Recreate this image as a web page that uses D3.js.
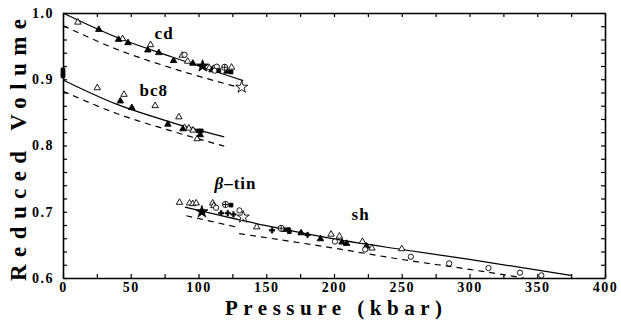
<!DOCTYPE html>
<html>
<head>
<meta charset="utf-8">
<style>
  body { margin: 0; background: #fff; }
  svg { display: block; font-family: "Liberation Serif", serif; }
  .axis path, .axis line { stroke: #000; fill: none; }
  .axis path { stroke-width: 1.6; }
  .axis line { stroke-width: 1.2; }
  .axis text { font-size: 14px; font-weight: bold; fill: #000; font-family: "Liberation Serif", serif; letter-spacing: 1.5px; }
  .curve { fill: none; stroke: #000; stroke-width: 1.2; }
  .dash { stroke-dasharray: 6, 5; }
  .lbl { font-size: 17px; font-weight: bold; letter-spacing: 1px; }
</style>
</head>
<body>
<svg width="621" height="322"></svg>
<script src="https://d3js.org/d3.v7.min.js"></script>
<script>
// fitted curves (pressure kbar, reduced volume)
var cdSolid = [[0, 1.0], [40, 0.963], [80, 0.934], [133, 0.898]];
var cdDash = [[0, 0.981], [40, 0.945], [80, 0.917], [133, 0.886]];
var bc8Solid = [[0, 0.899], [40, 0.862], [80, 0.835], [119, 0.813]];
var bc8Dash = [[0, 0.882], [40, 0.848], [80, 0.822], [119, 0.799]];
var tinSolid = [[90, 0.707], [150, 0.679], [200, 0.659], [250, 0.643], [300, 0.628], [375, 0.604]];
var tinDash = [[91, 0.694], [130, 0.676]];
var shDash = [[130, 0.667], [200, 0.645], [250, 0.628], [300, 0.613], [340, 0.600]];

// measured points
var openTri = [[11, 0.986], [44, 0.961], [64.6, 0.952], [88, 0.936], [92, 0.927], [108, 0.917], [111, 0.916], [124.4, 0.918],
  [25.3, 0.887], [45, 0.877], [68, 0.86], [85.5, 0.843], [89.7, 0.827], [92.9, 0.826], [96, 0.823], [99, 0.81],
  [86, 0.714], [93.4, 0.713], [95.8, 0.712], [98.3, 0.713], [110.5, 0.713], [111.3, 0.709], [143, 0.677],
  [197.8, 0.666], [204, 0.663], [221, 0.655], [228, 0.645], [250, 0.644]];
var filledTri = [[26.4, 0.975], [41, 0.960], [48, 0.955], [62.6, 0.944], [70.7, 0.940], [81.6, 0.928], [95.8, 0.924], [110, 0.914], [121, 0.912],
  [42.3, 0.867], [50.8, 0.857], [77.4, 0.832], [88.5, 0.825], [101.3, 0.816],
  [175.7, 0.668], [190, 0.659], [205.9, 0.654], [209.3, 0.652], [224, 0.648]];
var openCirc = [[89.7, 0.937], [113.5, 0.919], [112, 0.913], [113, 0.706], [130.2, 0.702],
  [200.7, 0.655], [223, 0.643], [256.7, 0.632], [285, 0.622], [314, 0.615], [337.3, 0.608], [353, 0.604]];
var filledStar = [[103, 0.920], [102.5, 0.700]];
var openStar = [[131.9, 0.888], [133, 0.692]];
var crossCirc = [[119.3, 0.918], [119.9, 0.711], [161, 0.675]];
var filledSq = [[0, 0.914], [0, 0.909], [0, 0.905], [115, 0.913], [124, 0.911],
  [100, 0.822], [102, 0.822], [124, 0.710], [163, 0.673], [166.3, 0.673], [167, 0.670]];
var plusMark = [[116.7, 0.698], [121.6, 0.698], [125.8, 0.696], [154.3, 0.672], [180.5, 0.665]];

var phaseLabels = [["cd", 67.6, 0.961], ["bc8", 56.5, 0.874], ["tin", 111.8, 0.734], ["sh", 213, 0.688]];

var xTicks = d3.range(0, 401, 25);
var yTicks = d3.range(0.6, 1.0001, 0.02);

var svg = d3.select("svg"),
    margin = {top: 13, right: 16, bottom: 44, left: 63},
    width = 621 - margin.left - margin.right,
    height = 322 - margin.top - margin.bottom,
    g = svg.append("g").attr("transform", "translate(" + margin.left + "," + margin.top + ")");

var x = d3.scaleLinear().domain([0, 400]).range([0, width]);
var y = d3.scaleLinear().domain([0.6, 1.0]).range([height, 0]);

function xFmt(d) { return d % 50 === 0 ? d : ""; }
function yFmt(d) { var r = Math.round(d * 100); return r % 10 === 0 ? d3.format(".1f")(d) : ""; }

g.append("g").attr("class", "axis").attr("transform", "translate(0," + height + ")")
  .call(d3.axisBottom(x).tickValues(xTicks).tickFormat(xFmt).tickSizeInner(-4).tickSizeOuter(0).tickPadding(4));
g.append("g").attr("class", "axis")
  .call(d3.axisTop(x).tickValues(xTicks).tickFormat("").tickSizeInner(-4).tickSizeOuter(0));
g.append("g").attr("class", "axis")
  .call(d3.axisLeft(y).tickValues(yTicks).tickFormat(yFmt).tickSizeInner(-4).tickSizeOuter(0).tickPadding(9));
g.append("g").attr("class", "axis").attr("transform", "translate(" + width + ",0)")
  .call(d3.axisRight(y).tickValues(yTicks).tickFormat("").tickSizeInner(-4).tickSizeOuter(0));

var line = d3.line().x(function(d) { return x(d[0]); }).y(function(d) { return y(d[1]); }).curve(d3.curveMonotoneX);

[cdSolid, bc8Solid, tinSolid].forEach(function(c) {
  g.append("path").attr("class", "curve").attr("d", line(c));
});
[cdDash, bc8Dash, tinDash, shDash].forEach(function(c) {
  g.append("path").attr("class", "curve dash").attr("d", line(c));
});

function drawPts(data, type, size, filled, sw) {
  g.append("g").selectAll("path").data(data).enter().append("path")
    .attr("transform", function(d) { return "translate(" + x(d[0]) + "," + y(d[1]) + ")"; })
    .attr("d", d3.symbol().type(type).size(size))
    .attr("fill", filled ? "#000" : "#fff")
    .attr("stroke", "#000")
    .attr("stroke-width", sw || 0.9);
}

drawPts(openTri, d3.symbolTriangle, 18, false);
drawPts(filledTri, d3.symbolTriangle, 18, true);
drawPts(openCirc, d3.symbolCircle, 22, false);
drawPts(filledSq, d3.symbolSquare, 14, true);
drawPts(plusMark, d3.symbolCross, 18, true, 0.3);
drawPts(filledStar, d3.symbolStar, 45, true);
drawPts(openStar, d3.symbolStar, 45, false);
drawPts(crossCirc, d3.symbolCircle, 30, false);
g.append("g").selectAll("path").data(crossCirc).enter().append("path")
  .attr("transform", function(d) { return "translate(" + x(d[0]) + "," + y(d[1]) + ")"; })
  .attr("d", "M-3,0H3M0,-3V3").attr("stroke", "#000").attr("stroke-width", 0.9);

phaseLabels.forEach(function(p) {
  var t = g.append("text").attr("class", "lbl").attr("x", x(p[1])).attr("y", y(p[2]));
  if (p[0] === "tin") {
    t.append("tspan").attr("font-style", "italic").text("β");
    t.append("tspan").text("\u2013tin");
  } else {
    t.text(p[0]);
  }
});

svg.append("text")
  .attr("transform", "translate(26,150) rotate(-90)")
  .attr("text-anchor", "middle")
  .attr("font-size", 23).attr("font-weight", "bold")
  .attr("textLength", 262).attr("lengthAdjust", "spacing")
  .text("Reduced Volume");

svg.append("text")
  .attr("x", 333.5).attr("y", 315)
  .attr("text-anchor", "middle")
  .attr("font-size", 21).attr("font-weight", "bold")
  .attr("textLength", 217).attr("lengthAdjust", "spacing")
  .text("Pressure (kbar)");
</script>
</body>
</html>
